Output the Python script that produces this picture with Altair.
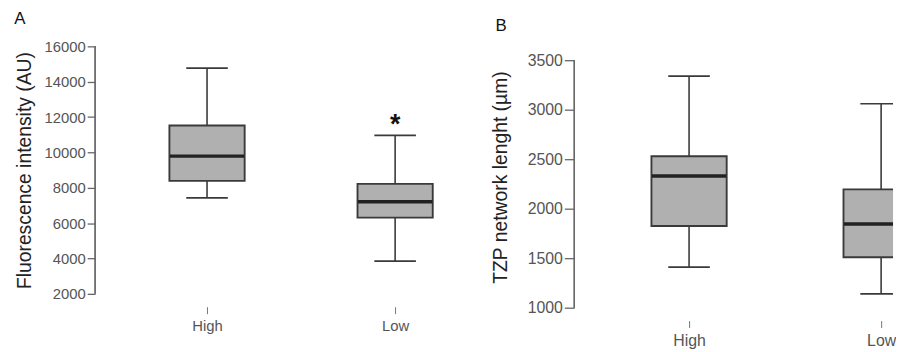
import altair as alt
import pandas as pd

categories = ["High", "Low"]

# Panel A: Fluorescence intensity (AU)
a_low = [7430, 3850]
a_q1 = [8390, 6310]
a_med = [9790, 7210]
a_q3 = [11520, 8220]
a_high = [14770, 10960]
a_mark = ["", "*"]
a_ticks = [2000, 4000, 6000, 8000, 10000, 12000, 14000, 16000]

# Panel B: TZP network lenght (µm)
b_low = [1410, 1140]
b_q1 = [1825, 1510]
b_med = [2330, 1845]
b_q3 = [2530, 2195]
b_high = [3340, 3060]
b_mark = ["", ""]
b_ticks = [1000, 1500, 2000, 2500, 3000, 3500]

FILL = "#b0b0b0"
DARK = "#3a3a3a"


def panel(low, q1, med, q3, high, mark, ticks, ytitle, width, height, top_extra,
          xpad, xalign, title_text, title_offset, title_dx, title_pad,
          label_size, ytick_size):
    df = pd.DataFrame({"cat": categories, "low": low, "q1": q1, "med": med,
                       "q3": q3, "high": high, "mark": mark})
    base = alt.Chart(df)
    x = alt.X("cat:N", scale=alt.Scale(type="point", domain=categories,
                                       padding=xpad, align=xalign),
              axis=alt.Axis(title=None, domain=False, labelAngle=0, offset=13,
                            tickSize=7, tickColor="#777", tickWidth=1,
                            labelFontSize=label_size, labelColor="#555",
                            labelPadding=5))
    yscale = alt.Scale(domain=[ticks[0], ticks[-1] + top_extra], nice=False, zero=False)
    yaxis = alt.Axis(title=ytitle, values=ticks, format="d", grid=False,
                     tickSize=ytick_size, tickColor="#666", domain=False,
                     tickWidth=1.3, labelFontSize=label_size, labelColor="#555",
                     labelPadding=2, titleFontSize=19.5, titleColor="#222",
                     titleFontWeight="normal", titlePadding=title_pad)
    axis_line = base.mark_rule(color="#666", strokeWidth=1.3).encode(
        x=alt.value(0), y=alt.Y(datum=ticks[0], scale=yscale, axis=yaxis),
        y2=alt.Y2(datum=ticks[-1]))
    whisk = base.mark_rule(color=DARK, strokeWidth=1.6, clip=True).encode(
        x=x, y=alt.Y("low:Q", scale=yscale, axis=yaxis), y2="high:Q")
    caps_lo = base.mark_tick(color=DARK, size=42, thickness=1.7, opacity=1, clip=True).encode(
        x=x, y=alt.Y("low:Q", scale=yscale, axis=yaxis))
    caps_hi = base.mark_tick(color=DARK, size=42, thickness=1.7, opacity=1, clip=True).encode(
        x=x, y=alt.Y("high:Q", scale=yscale, axis=yaxis))
    box = base.mark_bar(size=76, fill=FILL, stroke=DARK, strokeWidth=1.9, clip=True).encode(
        x=x, y=alt.Y("q1:Q", scale=yscale, axis=yaxis), y2="q3:Q")
    medl = base.mark_tick(color="#222222", size=75, thickness=3.5, opacity=1, clip=True).encode(
        x=x, y=alt.Y("med:Q", scale=yscale, axis=yaxis))
    star = base.mark_text(fontSize=27, fontWeight="bold", color="#111", dy=-10,
                          baseline="middle").encode(
        x=x, y=alt.Y("high:Q", scale=yscale, axis=yaxis), text="mark:N")
    return alt.layer(axis_line, whisk, box, medl, caps_lo, caps_hi, star).properties(
        width=width, height=height,
        title=alt.TitleParams(text=title_text, anchor="start", frame="bounds",
                              fontSize=17, fontWeight="normal", color="#111",
                              offset=title_offset, dx=title_dx))


pa = panel(a_low, a_q1, a_med, a_q3, a_high, a_mark, a_ticks,
           "Fluorescence intensity (AU)", 380, 250, 0, 0.5, 0.595, "A", 12, 0, 10,
           15, 8)
pb = panel(b_low, b_q1, b_med, b_q3, b_high, b_mark, b_ticks,
           "TZP network lenght (µm)", 322, 264, 140, 0.3299, 0.906,
           "B", 12, 5, 17, 16, 10)

chart = alt.hconcat(pa, pb, spacing=104, bounds="flush").properties(
    padding={"left": 6, "top": 0, "right": 0, "bottom": 0}
).configure(font="Liberation Sans").configure_view(stroke=None)

chart.save("out.html", embed_options={"renderer": "svg", "actions": False})
